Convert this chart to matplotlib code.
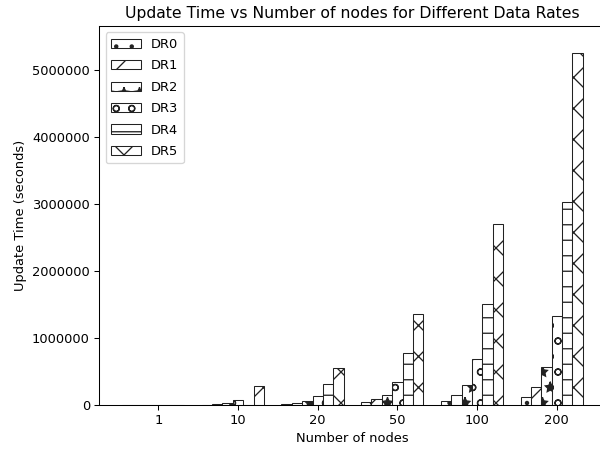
import matplotlib
matplotlib.use("Agg")
import matplotlib.pyplot as plt
import numpy as np

categories = ["1", "10", "20", "50", "100", "200"]
series_names = ["DR0", "DR1", "DR2", "DR3", "DR4", "DR5"]
dr0 = [1000, 5000, 10000, 40000, 60000, 120000]
dr1 = [1500, 10000, 30000, 85000, 150000, 270000]
dr2 = [2000, 25000, 60000, 150000, 300000, 570000]
dr3 = [3000, 80000, 130000, 340000, 690000, 1330000]
dr4 = [3000, 5000, 320000, 770000, 1510000, 3020000]
dr5 = [5000, 290000, 550000, 1350000, 2700000, 5240000]
series = [dr0, dr1, dr2, dr3, dr4, dr5]
hatches = [".", "/", "*", "o", "-", "x"]

fig = plt.figure(figsize=(6.4, 451 / 93.75), dpi=93.75)
ax = fig.add_axes([0.165, 0.102, 0.8445, 0.8404])

w = 0.13
r = np.arange(len(categories))
for i, (name, vals) in enumerate(zip(series_names, series)):
    ax.bar(r + i * w, vals, width=w, color="white", edgecolor="#222222",
           linewidth=0.8, hatch=hatches[i], label=name)

ax.set_xticks(r + 3 * w)
ax.set_xticklabels(categories)
ax.set_ylim(0, 5.65e6)
ax.ticklabel_format(axis="y", style="plain")
ax.set_xlabel("Number of nodes")
ax.set_ylabel("Update Time (seconds)")
ax.set_title("Update Time vs Number of nodes for Different Data Rates")
ax.legend(loc="upper left", labelspacing=0.65, handlelength=2.3)

fig.savefig("out.png", dpi=93.75)
